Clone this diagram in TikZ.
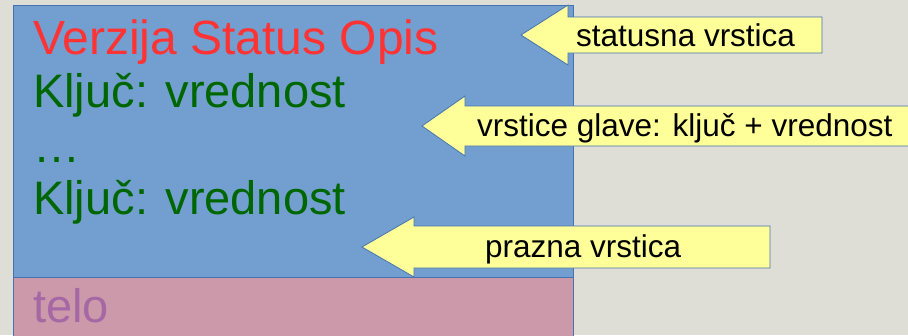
\documentclass[tikz,border=0pt]{standalone}
\usepackage{fontspec}
\setmainfont{Liberation Sans}
\usepackage{tikz}

\definecolor{paper}{RGB}{222,221,214}
\definecolor{headblue}{RGB}{114,159,207}
\definecolor{edgeblue}{RGB}{70,114,176}
\definecolor{bodypink}{RGB}{204,153,170}
\definecolor{telopurple}{RGB}{166,104,164}
\definecolor{statusred}{RGB}{255,51,51}
\definecolor{keygreen}{RGB}{0,102,0}
\definecolor{noteyellow}{RGB}{255,255,153}

\begin{document}
\begin{tikzpicture}[x=1pt,y=-1pt,inner sep=0pt,
  line/.style={anchor=base west,font=\fontsize{47}{56}\selectfont},
  callout/.style={draw=edgeblue,line width=0.8pt,fill=noteyellow},
  note/.style={anchor=base west,font=\fontsize{31.5}{38}\selectfont}]
\useasboundingbox (0,0) rectangle (908,335);
\fill [paper] (0,0) rectangle (908,335);
\clip (0,0) rectangle (908,335);
%Message Boxes
\draw [edgeblue,line width=0.8pt,fill=bodypink] (13,277) rectangle (573,345);
\draw [edgeblue,line width=0.8pt,fill=headblue] (13,5) rectangle (573,277);
%Message Lines
\node [line,statusred,font=\fontsize{48}{56}\selectfont] at (33,54) (Status) {Verzija Status Opis};
\node [line,keygreen] at (33,107) (Key1) {Klju\v{c}: vrednost};
\node [line,keygreen] at (33,162) (Dots) {\dots};
\node [line,keygreen] at (33,214) (Key2) {Klju\v{c}: vrednost};
\node [line,telopurple] at (33,322) (Body) {telo};
%Arrows
\draw [callout] (521,35) -- (568,5) -- (568,17) -- (822,17) -- (822,53) -- (568,53) -- (568,65) -- cycle;
\draw [callout] (422,126) -- (465,96) -- (465,106) -- (920,106) -- (920,146) -- (465,146) -- (465,156) -- cycle;
\draw [callout] (362,247) -- (414,217) -- (414,226) -- (770,226) -- (770,268) -- (414,268) -- (414,277) -- cycle;
%Arrow Labels
\node [note] at (576,46) (StatusNote) {statusna vrstica};
\node [note] at (477,136) (HeaderNote) {vrstice glave: klju\v{c} + vrednost};
\node [note] at (485,257) (EmptyNote) {prazna vrstica};
\end{tikzpicture}
\end{document}
